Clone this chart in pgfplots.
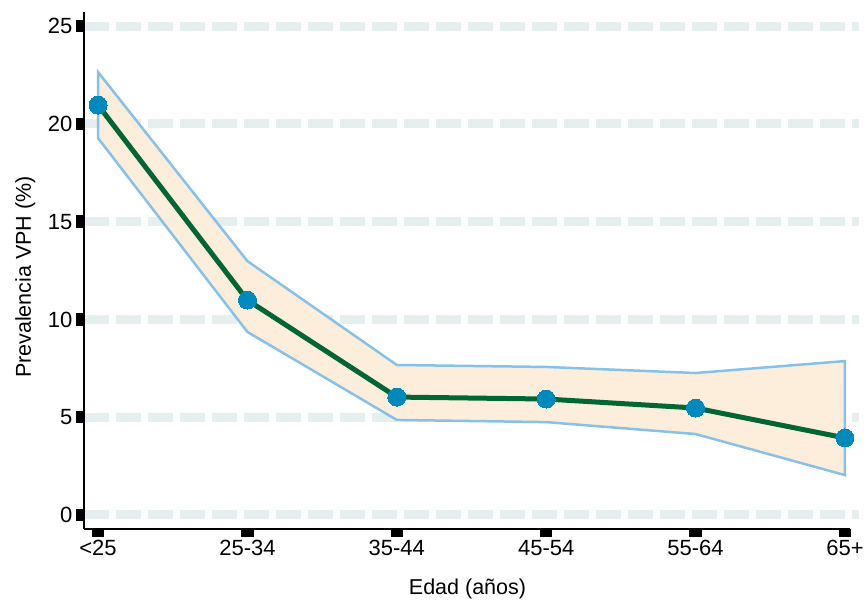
\documentclass[border=0pt]{standalone}
\usepackage{pgfplots}
\pgfplotsset{compat=1.18}
\usepackage{fontspec}
\setmainfont{Liberation Sans}
\definecolor{gridc}{RGB}{230,239,240}
\definecolor{fillc}{RGB}{253,238,219}
\definecolor{bandc}{RGB}{133,193,233}
\definecolor{linec}{RGB}{0,102,51}
\definecolor{markc}{RGB}{0,137,189}
\begin{document}
\begin{tikzpicture}
\useasboundingbox (-84pt,-71pt) rectangle (781pt,529pt);
\begin{axis}[
  at={(0,0)}, anchor=south west,
  scale only axis,
  width=775pt, height=517pt,
  xmin=-0.094, xmax=5.094, ymin=-0.716, ymax=25.72,
  axis x line*=bottom, axis y line*=left,
  axis line style={draw=none},
  xtick={0,1,2,3,4,5},
  xticklabels={<25,25-34,35-44,45-54,55-64,65+},
  ytick={0,5,10,15,20,25},
  tick align=outside,
  major tick length=8pt,
  tick style={black, line width=12.5pt},
  ymajorgrids,
  major grid style={gridc, line width=9pt, dash pattern=on 25pt off 7pt},
  tick label style={font=\fontsize{22}{22}\selectfont},
  /pgf/number format/assume math mode=true,
  label style={font=\fontsize{21.5}{21.5}\selectfont},
  xlabel={Edad (años)},
  ylabel={Prevalencia VPH (\%)},
  xlabel style={at={(rel axis cs:0.5,0)}, anchor=base, yshift=-65pt, xshift=-4pt},
  ylabel style={at={(rel axis cs:0,0.5)}, anchor=base, yshift=53pt, xshift=-6.5pt},
  clip=false,
]
\addplot[draw=bandc, line width=2.5pt, fill=fillc] coordinates {
  (0,22.65) (1,12.98) (2,7.67) (3,7.57) (4,7.26) (5,7.87)
  (5,2.04) (4,4.14) (3,4.75) (2,4.86) (1,9.36) (0,19.27)} -- cycle;
\addplot[linec, line width=5pt, mark=*, mark size=9pt,
  mark options={solid, fill=markc, draw=markc, line width=0pt}] coordinates {
  (0,20.96) (1,10.99) (2,6.03) (3,5.93) (4,5.47) (5,3.94)};
\draw[black, line width=2.5pt] (rel axis cs:0,0) -- (rel axis cs:0,1);
\draw[black, line width=2.5pt] (rel axis cs:0,0) -- (axis cs:5.035,-0.716);
\end{axis}
\end{tikzpicture}
\end{document}
